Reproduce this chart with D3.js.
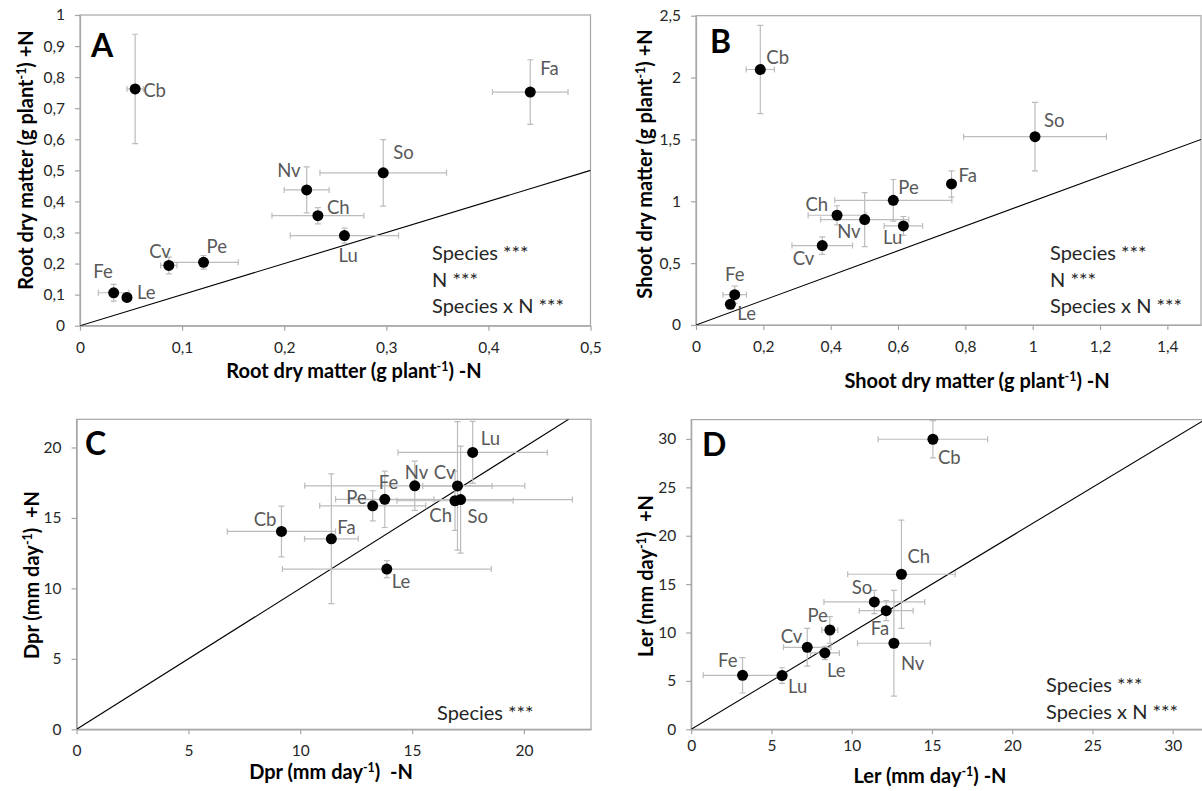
<!DOCTYPE html>
<html>
<head>
<meta charset="utf-8">
<script src="https://cdn.jsdelivr.net/npm/d3@7"></script>
<style>
  html, body { margin: 0; padding: 0; background: #fff; }
  svg { display: block; font-family: Lato, "Open Sans", sans-serif; }
  text { white-space: pre; }
</style>
</head>
<body>
<script>
// ---------- DATA ----------
const species = ["Cb", "Fa", "So", "Nv", "Ch", "Lu", "Pe", "Cv", "Fe", "Le"];

// Panel A: root dry matter (g plant-1)
const rootMinusN    = [0.054, 0.441, 0.297, 0.222, 0.233, 0.259, 0.121, 0.087, 0.033, 0.046];
const rootPlusN     = [0.762, 0.752, 0.492, 0.437, 0.354, 0.290, 0.204, 0.194, 0.106, 0.091];
const rootMinusNErr = [0.008, 0.037, 0.062, 0.022, 0.045, 0.053, 0.034, 0.008, 0.015, 0.004];
const rootPlusNErr  = [0.176, 0.104, 0.107, 0.074, 0.026, 0.024, 0.022, 0.027, 0.027, 0.010];

// Panel B: shoot dry matter (g plant-1)
const shootMinusN    = [0.191, 0.759, 1.007, 0.501, 0.419, 0.616, 0.586, 0.375, 0.115, 0.102];
const shootPlusN     = [2.065, 1.140, 1.522, 0.852, 0.887, 0.801, 1.008, 0.642, 0.245, 0.167];
const shootMinusNErr = [0.042, 0.005, 0.212, 0.131, 0.086, 0.057, 0.174, 0.090, 0.035, 0.010];
const shootPlusNErr  = [0.357, 0.106, 0.277, 0.218, 0.077, 0.076, 0.168, 0.071, 0.070, 0.010];

// Panel C: Dpr (mm day-1)
const dprMinusN    = [9.16, 11.39, 17.17, 15.12, 16.92, 17.71, 13.24, 17.03, 13.78, 13.87];
const dprPlusN     = [14.04, 13.52, 16.30, 17.28, 16.22, 19.65, 15.86, 17.27, 16.32, 11.37];
const dprMinusNErr = [2.42, 1.20, 5.00, 4.92, 2.60, 3.34, 2.37, 1.55, 2.20, 4.67];
const dprPlusNErr  = [1.80, 4.60, 3.80, 1.75, 2.10, 2.20, 1.07, 4.56, 2.00, 0.60];

// Panel D: Ler (mm day-1)
const lerMinusN    = [15.06, 12.15, 11.41, 12.63, 13.10, 5.66, 8.64, 7.23, 3.20, 8.33];
const lerPlusN     = [29.97, 12.26, 13.16, 8.89, 16.02, 5.55, 10.26, 8.47, 5.58, 7.89];
const lerMinusNErr = [3.41, 1.68, 3.14, 2.27, 3.35, 0.30, 0.50, 1.48, 2.45, 0.90];
const lerPlusNErr  = [1.93, 1.03, 1.20, 5.46, 5.60, 0.81, 1.38, 1.95, 1.83, 0.69];

// Tick values
const ticksAx = [0, 0.1, 0.2, 0.3, 0.4, 0.5];
const ticksAy = [0, 0.1, 0.2, 0.3, 0.4, 0.5, 0.6, 0.7, 0.8, 0.9, 1];
const ticksBx = [0, 0.2, 0.4, 0.6, 0.8, 1, 1.2, 1.4];
const ticksBy = [0, 0.5, 1, 1.5, 2, 2.5];
const ticksCx = [0, 5, 10, 15, 20];
const ticksCy = [0, 5, 10, 15, 20];
const ticksDx = [0, 5, 10, 15, 20, 25, 30];
const ticksDy = [0, 5, 10, 15, 20, 25, 30];

// Statistics text
const statsA = ["Species ***", "N ***", "Species x N ***"];
const statsB = ["Species ***", "N ***", "Species x N ***"];
const statsC = ["Species ***"];
const statsD = ["Species ***", "Species x N ***"];

// ---------- LAYOUT (label placement relative to each point: anchor, dx, dy) ----------
const placeA = [["start",8,8],["start",10,-17],["start",10,-14],["end",-6,-13],["start",9,-2],
                ["start",-6,26],["start",3,-9],["end",2,-7],["end",-1,-15],["start",10,2]];
const placeB = [["start",6,-6],["start",7,-2],["start",9,-10],["end",-4,18],["end",-9,-4],
                ["end",-1,18],["start",5,-6],["end",-8,19],["middle",0,-14],["start",7,16]];
const placeC = [["end",-5,-5],["start",6,-5],["start",7,23],["start",-10,-7],["end",-3,21],
                ["start",8,-7],["end",-6,-2],["end",-2,-7],["start",-6,-10],["start",5,19]];
const placeD = [["start",5,25],["end",3,24],["end",-2,-8],["start",7,27],["start",6,-11],
                ["start",6,17],["end",-2,-8],["end",-5,-4],["end",-5,-8],["start",2,24]];

const W = 1202, H = 791;
const svg = d3.select("body").append("svg").attr("width", W).attr("height", H);
const fmt = d => String(+(+d).toFixed(2)).replace(".", ",");

const panels = [
  { id: "A", letter: "A", letterPos: [91, 57],
    left: 80, right: 590.5, top: 15, bottom: 325.7,
    xDomain: [0, 0.5], yDomain: [0, 1], diag: 0.5,
    xTicks: ticksAx, yTicks: ticksAy,
    xs: rootMinusN, ys: rootPlusN, xe: rootMinusNErr, ye: rootPlusNErr, place: placeA,
    xTitle: ["Root dry matter (g plant", "-1", ") -N"], xTitlePos: [354, 378],
    yTitle: ["Root dry matter (g plant", "-1", ") +N"], yTitlePos: [26, 160],
    stats: statsA, statsPos: [432, 260], xLabelDy: 27 },
  { id: "B", letter: "B", letterPos: [710, 53],
    left: 696, right: 1201, top: 15.7, bottom: 325,
    xDomain: [0, 1.5], yDomain: [0, 2.5], diag: 1.5,
    xTicks: ticksBx, yTicks: ticksBy,
    xs: shootMinusN, ys: shootPlusN, xe: shootMinusNErr, ye: shootPlusNErr, place: placeB,
    xTitle: ["Shoot dry matter (g plant", "-1", ") -N"], xTitlePos: [977, 388],
    yTitle: ["Shoot dry matter (g plant", "-1", ") +N"], yTitlePos: [645, 164],
    stats: statsB, statsPos: [1050, 260], xLabelDy: 27 },
  { id: "C", letter: "C", letterPos: [85, 455],
    left: 76.6, right: 591, top: 419.3, bottom: 729.3,
    xDomain: [0, 23], yDomain: [0, 22], diag: 22,
    xTicks: ticksCx, yTicks: ticksCy,
    xs: dprMinusN, ys: dprPlusN, xe: dprMinusNErr, ye: dprPlusNErr, place: placeC,
    xTitle: ["Dpr (mm day", "-1", ")  -N"], xTitlePos: [331, 779],
    yTitle: ["Dpr (mm day", "-1", ")  +N"], yTitlePos: [32, 575],
    stats: statsC, statsPos: [437, 720], xLabelDy: 27 },
  { id: "D", letter: "D", letterPos: [702, 456],
    left: 691.2, right: 1204.8, top: 419.6, bottom: 729.3,
    xDomain: [0, 32], yDomain: [0, 32], diag: 32,
    xTicks: ticksDx, yTicks: ticksDy,
    xs: lerMinusN, ys: lerPlusN, xe: lerMinusNErr, ye: lerPlusNErr, place: placeD,
    xTitle: ["Ler (mm day", "-1", ") -N"], xTitlePos: [930, 783],
    yTitle: ["Ler (mm day", "-1", ")  +N"], yTitlePos: [646, 576],
    stats: statsD, statsPos: [1046, 692], xLabelDy: 22 }
];

const frameColor = "#a6a6a6";
const errColor = "#bcbcbc";

function titleText(sel, parts) {
  sel.append("tspan").text(parts[0]);
  sel.append("tspan").attr("baseline-shift", "super").attr("font-size", "0.62em").text(parts[1]);
  sel.append("tspan").text(parts[2]);
}

panels.forEach(p => {
  const x = d3.scaleLinear().domain(p.xDomain).range([p.left, p.right]);
  const y = d3.scaleLinear().domain(p.yDomain).range([p.bottom, p.top]);
  const g = svg.append("g").attr("class", "panel-" + p.id);

  // plot frame
  g.append("rect")
    .attr("x", p.left).attr("y", p.top)
    .attr("width", p.right - p.left).attr("height", p.bottom - p.top)
    .attr("fill", "none").attr("stroke", frameColor).attr("stroke-width", 1.2);

  // axes
  const xAxis = g.append("g").attr("transform", `translate(0,${p.bottom})`)
    .call(d3.axisBottom(x).tickValues(p.xTicks).tickFormat(fmt)
      .tickSize(5).tickSizeOuter(0).tickPadding(p.xLabelDy - 16));
  const yAxis = g.append("g").attr("transform", `translate(${p.left},0)`)
    .call(d3.axisLeft(y).tickValues(p.yTicks).tickFormat(fmt)
      .tickSize(5).tickSizeOuter(0).tickPadding(10));
  [xAxis, yAxis].forEach(a => {
    a.select(".domain").attr("stroke", frameColor).attr("stroke-width", 1.2);
    a.selectAll(".tick line").attr("stroke", frameColor).attr("stroke-width", 1.2);
    a.selectAll(".tick text").attr("fill", "#262626")
      .attr("font-family", "Lato, sans-serif").attr("font-size", 15.5);
  });

  // clip
  const clipId = "clip-" + p.id;
  g.append("clipPath").attr("id", clipId).append("rect")
    .attr("x", p.left).attr("y", p.top)
    .attr("width", p.right - p.left).attr("height", p.bottom - p.top);
  const plot = g.append("g").attr("clip-path", `url(#${clipId})`);

  // 1:1 line
  plot.append("line")
    .attr("x1", x(0)).attr("y1", y(0)).attr("x2", x(p.diag)).attr("y2", y(p.diag))
    .attr("stroke", "#000").attr("stroke-width", 1.1);

  const data = species.map((s, i) => ({ s, x: p.xs[i], y: p.ys[i], xe: p.xe[i], ye: p.ye[i], pl: p.place[i] }));
  const cap = 3;

  const eb = plot.append("g").attr("stroke", errColor).attr("stroke-width", 1.2).attr("fill", "none");
  data.forEach(d => {
    // horizontal
    eb.append("line").attr("x1", x(d.x - d.xe)).attr("x2", x(d.x + d.xe)).attr("y1", y(d.y)).attr("y2", y(d.y));
    eb.append("line").attr("x1", x(d.x - d.xe)).attr("x2", x(d.x - d.xe)).attr("y1", y(d.y) - cap).attr("y2", y(d.y) + cap);
    eb.append("line").attr("x1", x(d.x + d.xe)).attr("x2", x(d.x + d.xe)).attr("y1", y(d.y) - cap).attr("y2", y(d.y) + cap);
    // vertical
    eb.append("line").attr("x1", x(d.x)).attr("x2", x(d.x)).attr("y1", y(d.y - d.ye)).attr("y2", y(d.y + d.ye));
    eb.append("line").attr("x1", x(d.x) - cap).attr("x2", x(d.x) + cap).attr("y1", y(d.y - d.ye)).attr("y2", y(d.y - d.ye));
    eb.append("line").attr("x1", x(d.x) - cap).attr("x2", x(d.x) + cap).attr("y1", y(d.y + d.ye)).attr("y2", y(d.y + d.ye));
  });

  // points
  g.append("g").selectAll("circle").data(data).join("circle")
    .attr("cx", d => x(d.x)).attr("cy", d => y(d.y)).attr("r", 5.5).attr("fill", "#000");

  // species labels
  g.append("g").selectAll("text").data(data).join("text")
    .attr("x", d => x(d.x) + d.pl[1]).attr("y", d => y(d.y) + d.pl[2])
    .attr("text-anchor", d => d.pl[0])
    .attr("font-size", 18.5).attr("fill", "#595959")
    .text(d => d.s);

  // panel letter
  g.append("text").attr("x", p.letterPos[0]).attr("y", p.letterPos[1])
    .attr("font-size", 32).attr("font-weight", 700).attr("fill", "#000").text(p.letter);

  // stats
  g.append("g").selectAll("text").data(p.stats).join("text")
    .attr("x", p.statsPos[0]).attr("y", (d, i) => p.statsPos[1] + i * 26.7)
    .attr("font-size", 20).attr("fill", "#262626").text(d => d);

  // axis titles
  g.append("text").attr("x", p.xTitlePos[0]).attr("y", p.xTitlePos[1])
    .attr("text-anchor", "middle").attr("font-size", 20).attr("font-weight", 700).attr("fill", "#000")
    .call(titleText, p.xTitle);
  g.append("text")
    .attr("transform", `translate(${p.yTitlePos[0]},${p.yTitlePos[1]}) rotate(-90)`)
    .attr("text-anchor", "middle").attr("dy", "0.36em")
    .attr("font-size", 20).attr("font-weight", 700).attr("fill", "#000")
    .call(titleText, p.yTitle);
});
</script>
</body>
</html>
